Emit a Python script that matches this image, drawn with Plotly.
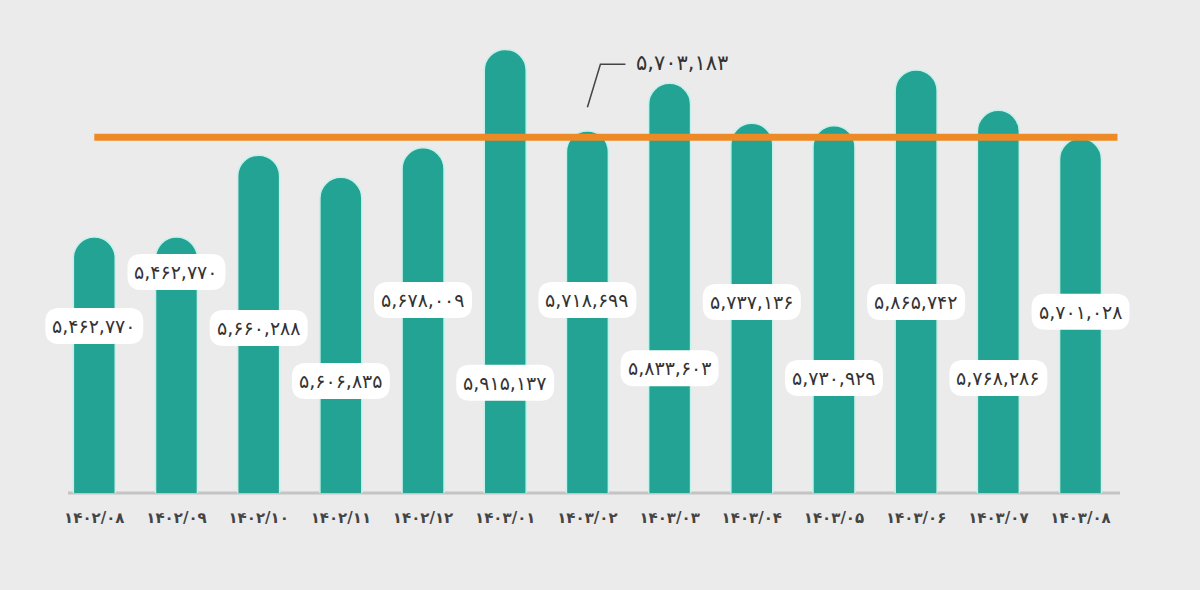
import plotly.graph_objects as go

# =====================================================
# DATA
# =====================================================

months = [
    "1402/08", "1402/09", "1402/10", "1402/11", "1402/12",
    "1403/01", "1403/02", "1403/03", "1403/04", "1403/05",
    "1403/06", "1403/07", "1403/08",
]

values = [
    5462770, 5462770, 5660288, 5606835, 5678009,
    5915137, 5718699, 5833603, 5737136, 5730929,
    5865742, 5768286, 5701028,
]

average_value = 5703183

# vertical place of each value box (fraction of plot height)
label_pos = [
    0.353, 0.467, 0.349, 0.237, 0.408, 0.233, 0.408,
    0.264, 0.404, 0.243, 0.404, 0.243, 0.383,
]

# =====================================================
# HELPERS
# =====================================================

FA_DIGITS = str.maketrans("0123456789", "۰۱۲۳۴۵۶۷۸۹")


def fa(text):
    return str(text).translate(FA_DIGITS)


def fa_number(n):
    return fa(f"{n:,}")


TEAL = "#22a393"
ORANGE = "#ee8a25"
BG = "#ebebeb"
TEXT = "#333333"
FONT = "DejaVu Sans"

labels = [fa(m) for m in months]

Y_MIN = 4846000
Y_MAX = 5986000

# =====================================================
# FIGURE
# =====================================================

fig = go.Figure()

fig.add_trace(
    go.Bar(
        x=labels,
        y=values,
        marker=dict(
            color=TEAL,
            cornerradius=21,
            line=dict(color="#c4f1ea", width=1.5)
        ),
        hoverinfo="skip"
    )
)

# baseline
fig.add_shape(
    type="line",
    xref="x",
    yref="paper",
    x0=-0.32,
    x1=12.48,
    y0=0,
    y1=0,
    line=dict(color="#c4c4c4", width=3),
    layer="below"
)

# rounded white boxes behind the value labels
box_path = (
    "M -35,-18 L 35,-18 Q 49,-18 49,-4 L 49,4 Q 49,18 35,18 "
    "L -35,18 Q -49,18 -49,4 L -49,-4 Q -49,-18 -35,-18 Z"
)

for i, (v, pos) in enumerate(zip(values, label_pos)):

    fig.add_shape(
        type="path",
        xref="x",
        yref="paper",
        xsizemode="pixel",
        ysizemode="pixel",
        xanchor=i,
        yanchor=pos,
        path=box_path,
        fillcolor="white",
        line=dict(width=0),
        layer="above"
    )

    fig.add_annotation(
        x=i,
        y=pos,
        xref="x",
        yref="paper",
        text=fa_number(v),
        showarrow=False,
        font=dict(family=FONT, size=19, color=TEXT),
        xanchor="center",
        yanchor="middle"
    )

# average line
fig.add_shape(
    type="line",
    xref="x",
    yref="y",
    x0=0,
    x1=12.45,
    y0=average_value,
    y1=average_value,
    line=dict(color=ORANGE, width=7),
    layer="above"
)

# leader line to the average label
fig.add_shape(
    type="path",
    xref="x",
    yref="y",
    xsizemode="pixel",
    ysizemode="pixel",
    xanchor=6,
    yanchor=average_value,
    path="M 0,30 L 13,73 L 38,73",
    line=dict(color="#444444", width=1.5),
    layer="above"
)

fig.add_annotation(
    x=6,
    y=average_value,
    xref="x",
    yref="y",
    text=fa_number(average_value),
    showarrow=False,
    xanchor="left",
    yanchor="middle",
    xshift=47,
    yshift=74,
    font=dict(family=FONT, size=21, color=TEXT)
)

# =====================================================
# LAYOUT
# =====================================================

fig.update_layout(

    width=1200,

    height=590,

    paper_bgcolor=BG,

    plot_bgcolor=BG,

    showlegend=False,

    bargap=0.49,

    margin=dict(
        l=20,
        r=40,
        t=20,
        b=97
    ),

    xaxis=dict(
        type="category",
        range=[-0.904, 12.967],
        showgrid=False,
        zeroline=False,
        showline=False,
        ticks="",
        ticklabelstandoff=14,
        tickfont=dict(family=FONT, size=15, color="#444444", weight="bold")
    ),

    yaxis=dict(
        range=[Y_MIN, Y_MAX],
        visible=False,
        showgrid=False,
        zeroline=False
    )

)

fig.write_html(
    "out.html",
    config={"displayModeBar": False},
    post_script="document.body.style.margin='0';document.body.style.overflow='hidden';"
)
